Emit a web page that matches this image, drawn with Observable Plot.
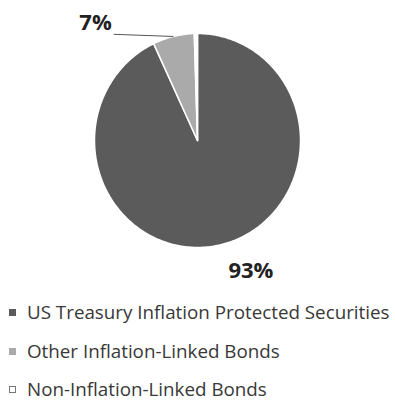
<!DOCTYPE html>
<html><head><meta charset="utf-8">
<script src="https://cdn.jsdelivr.net/npm/d3@7"></script>
<script src="https://cdn.jsdelivr.net/npm/@observablehq/plot@0.6"></script>
<style>
body{margin:0;background:#fff;font-family:"Open Sans",sans-serif;width:395px;height:401px;overflow:hidden;position:relative;}
#legend{position:absolute;left:0;top:296px;}
.row{position:absolute;left:0;height:20px;white-space:nowrap;font-size:18.8px;color:#383838;line-height:20px;}
.sw{position:absolute;left:9px;top:7px;width:7px;height:7px;box-sizing:border-box;}
.lt{position:absolute;left:27px;top:0;}
</style></head><body><div id="chart"></div><div id="legend"></div>
<script>
const categories = ["US Treasury Inflation Protected Securities", "Other Inflation-Linked Bonds", "Non-Inflation-Linked Bonds"];
const shares = [93.0, 6.5, 0.5];
const sliceLabels = ["93%", "7%", ""];
const colors = ["#5b5b5b", "#aaaaaa", "#ffffff"];

const W = 395, H = 290, cx = 197, cy = 140, sx = 103, sy = 107;
const total = d3.sum(shares);
let acc = 0;
const slices = shares.map((v, i) => {
  const a0 = acc / total * 2 * Math.PI; acc += v;
  const a1 = acc / total * 2 * Math.PI;
  return {cat: categories[i], a0, a1, mid: (a0 + a1) / 2, label: sliceLabels[i]};
});
const pts = [];
slices.forEach(s => {
  pts.push({cat: s.cat, x: 0, y: 0});
  const n = Math.max(2, Math.ceil((s.a1 - s.a0) / (Math.PI / 180)));
  for (let k = 0; k <= n; k++) {
    const a = s.a0 + (s.a1 - s.a0) * k / n;
    pts.push({cat: s.cat, x: Math.sin(a), y: Math.cos(a)});
  }
});
const big = slices[0], small = slices[1];
const leader = [{x1: Math.sin(small.mid), y1: Math.cos(small.mid), x2: Math.sin(small.mid) - 0.58, y2: Math.cos(small.mid) + 0.02, label: small.label}];
const bigLab = [{x: Math.sin(big.mid) * 1.22, y: Math.cos(big.mid) * 1.22, label: big.label}];

const chart = Plot.plot({
  width: W, height: H, margin: 0,
  x: {domain: [-cx / sx, (W - cx) / sx], axis: null},
  y: {domain: [-(H - cy) / sy, cy / sy], axis: null},
  color: {domain: categories, range: colors},
  style: {fontFamily: "Open Sans, sans-serif", background: "#fff"},
  marks: [
    Plot.line(pts, {x: "x", y: "y", z: "cat", fill: "cat", stroke: "#fff", strokeWidth: 1.5, curve: "linear-closed"}),
    Plot.link(leader, {x1: "x1", y1: "y1", x2: "x2", y2: "y2", stroke: "#555", strokeWidth: 1}),
    Plot.text(leader, {x: "x2", y: "y2", text: "label", textAnchor: "end", dx: -2, dy: -11, fontSize: 22, fontWeight: "bold", fill: "#222"}),
    Plot.text(bigLab, {x: "x", y: "y", text: "label", dx: 26, dy: 3, fontSize: 22, fontWeight: "bold", fill: "#222"})
  ]
});
document.getElementById("chart").appendChild(chart);

const leg = document.getElementById("legend");
const rowTops = [6, 45, 83];
categories.forEach((c, i) => {
  const r = document.createElement("div");
  r.className = "row"; r.style.top = rowTops[i] + "px";
  const sw = document.createElement("div");
  sw.className = "sw"; sw.style.background = colors[i];
  if (i === 2) sw.style.border = "1px solid #777";
  const t = document.createElement("span"); t.className = "lt"; t.textContent = c;
  r.appendChild(sw); r.appendChild(t); leg.appendChild(r);
});
</script></body></html>
